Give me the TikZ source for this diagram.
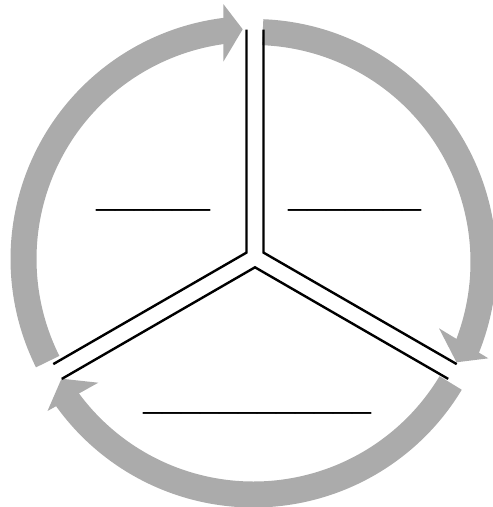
\documentclass[tikz,border=0pt]{standalone}
\usepackage{fontspec}
\setmainfont{Liberation Serif}
\definecolor{ringgray}{RGB}{171,171,171}
\begin{document}
\begin{tikzpicture}[x=1pt,y=1pt,
  ringarc/.style={draw=ringgray, line width=26pt, line cap=butt},
  headfill/.style={fill=ringgray, draw=none},
  divider/.style={draw=black, line width=2.4pt, line join=miter},
  blank/.style={inner sep=0pt, anchor=base west, font=\fontsize{38}{40}\selectfont}]
\useasboundingbox (0,-507) rectangle (493,0);
% ring centres
\coordinate (c1) at (253.5,-259);
\coordinate (c2) at (253.5,-262);
\coordinate (c3) at (253.5,-264.5);
% arc bodies
\draw[ringarc] (c1) ++(206.5:230) arc[start angle=206.5, end angle=95.5, radius=230];
\draw[ringarc] (c2) ++(87.7:230) arc[start angle=87.7, end angle=-23, radius=230];
\draw[ringarc] (c3) ++(-31:230) arc[start angle=-31, end angle=-145.6, radius=230];
% arrow heads
\coordinate (h1a) at (223.3,-4);
\coordinate (h1b) at (223.3,-61.7);
\coordinate (h1t) at (242.7,-29.3);
\coordinate (h2a) at (439,-328.3);
\coordinate (h2b) at (488.3,-358.3);
\coordinate (h2t) at (456.5,-362.3);
\coordinate (h3a) at (47.5,-411);
\coordinate (h3b) at (98.3,-382.7);
\coordinate (h3t) at (61.5,-378.7);
\fill[headfill] (h1a) -- (h1t) -- (h1b) -- cycle;
\fill[headfill] (h2a) -- (h2t) -- (h2b) -- cycle;
\fill[headfill] (h3a) -- (h3t) -- (h3b) -- cycle;
% dividers
\coordinate (p1) at (246.5,-29.5);
\coordinate (p2) at (246.5,-252.6);
\coordinate (p3) at (53.3,-364.1);
\coordinate (q1) at (263.5,-29.5);
\coordinate (q2) at (263.5,-252.6);
\coordinate (q3) at (456.7,-364.1);
\coordinate (r1) at (61.8,-378.9);
\coordinate (r2) at (255,-267.3);
\coordinate (r3) at (448.2,-378.9);
\draw[divider] (p1) -- (p2) -- (p3);
\draw[divider] (q1) -- (q2) -- (q3);
\draw[divider] (r1) -- (r2) -- (r3);
% blanks
\node[blank] (t1) at (96.7,-206.8) {\_\_\_\_\_\_};
\node[blank] (t2) at (288.3,-206.8) {\_\_\_\_\_\_\_};
\node[blank] (t3) at (143.3,-409.1) {\_\_\_\_\_\_\_\_\_\_\_\_};
\end{tikzpicture}
\end{document}
